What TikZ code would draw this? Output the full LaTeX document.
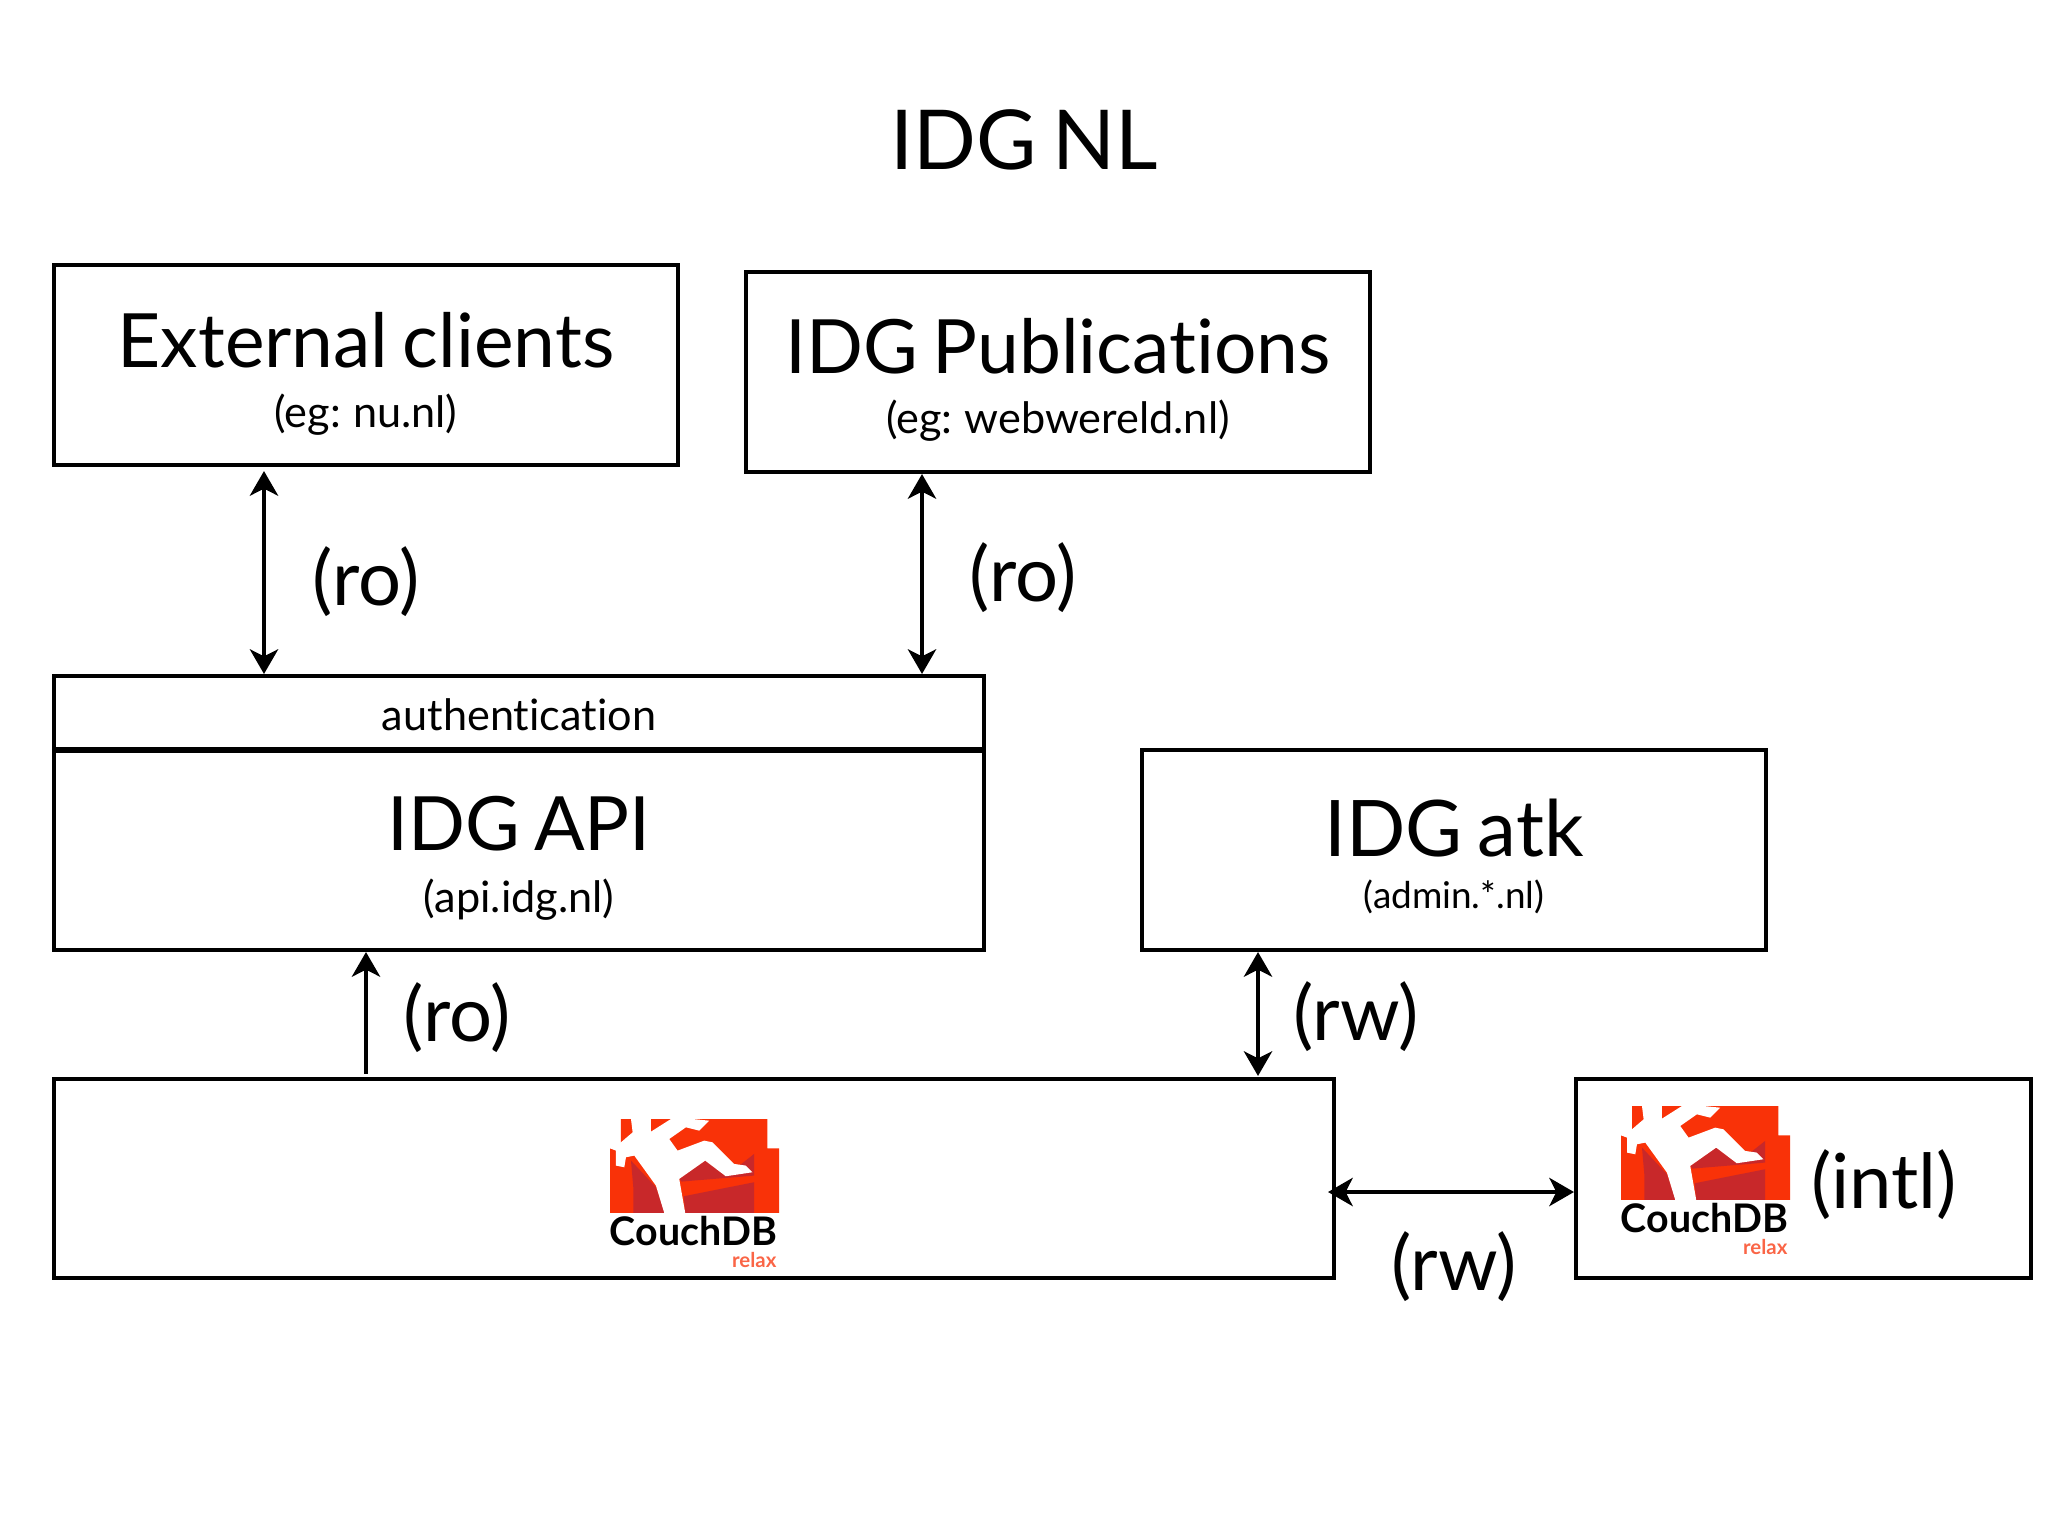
\documentclass[tikz,border=0pt]{standalone}
\usepackage{fontspec}
\setmainfont[Ligatures=NoCommon,WordSpace=0.75]{Lato}
\usetikzlibrary{arrows.meta}
\definecolor{couchred}{HTML}{F93208}
\definecolor{couchdark}{HTML}{C8282A}
\tikzset{
  box/.style={draw=black,line width=1.15pt,inner sep=0pt,minimum width=624*0.01cm,minimum height=200*0.01cm},
  bigtext/.style={inner sep=0pt,font=\fontsize{21.3}{21.3}\selectfont},
  labeltext/.style={inner sep=0pt,font=\fontsize{21.6}{21.6}\selectfont},
  smalltext/.style={inner sep=0pt,font=\fontsize{12.3}{12.3}\selectfont},
  link/.style={line width=1.3pt,-{Stealth[length=7pt,width=8pt,inset=2pt]}},
  bilink/.style={line width=1.3pt,{Stealth[length=7pt,width=8pt,inset=2pt]}-{Stealth[length=7pt,width=8pt,inset=2pt]}},
  couchlogo/.pic={
    \begin{scope}[x=0.003333cm,y=-0.003333cm]
    % Red blocks
    \fill[couchred] (33,0) -- (473,0) -- (473,88) -- (508,88) -- (508,282) -- (0,282) -- (0,88) -- (33,88) -- cycle;
    \fill[couchdark] (70,282) -- (70,205) -- (63,125) -- (138,205) -- (165,282) -- cycle;
    \fill[couchdark] (208,180) -- (286,125) -- (348,172) -- (433,105) -- (433,170) -- (215,188) -- cycle;
    \fill[couchdark] (222,232) -- (433,190) -- (433,282) -- (225,282) -- cycle;
    % Running figure
    \fill[white] (163,282) -- (226,282) -- (208,180) -- (286,125) -- (348,172) -- (428,160) -- (408,140) -- (373,135) -- (308,70) -- (283,65) -- (203,95) -- (178,60) -- (228,25) -- (268,35) -- (298,5) -- (248,0) -- (183,0) -- (123,38) -- (123,0) -- (63,0) -- (68,40) -- (33,70) -- (0,88) -- (18,95) -- (18,140) -- (43,145) -- (48,115) -- (73,110) -- (138,200) -- cycle;
    % Wordmark
    \node[inner sep=0pt,anchor=base east,font=\fontsize{11.2}{11.2}\selectfont\bfseries] (couchword) at (504,381) {CouchDB};
    \node[inner sep=0pt,anchor=base east,text=couchred!75,font=\fontsize{5.8}{5.8}\selectfont\bfseries] (couchrelax) at (502,446) {relax};
    \end{scope}
  }
}
\begin{document}
\begin{tikzpicture}[x=0.01cm,y=-0.01cm]
  \useasboundingbox (0,0) rectangle (2048,1536);

  % Title
  \node[inner sep=0pt,font=\fontsize{23.5}{23.5}\selectfont] (title) at (1024,140) {IDG NL};

  % Boxes
  \node[box] (ext) at (366,365) {};
  \node[box] (pub) at (1058,372) {};
  \node[box,minimum width=930*0.01cm,minimum height=73*0.01cm] (auth) at (519,712.5) {};
  \node[box,minimum width=930*0.01cm,minimum height=201*0.01cm] (api) at (519,849.5) {};
  \node[box] (atk) at (1454,850) {};
  \node[box,minimum width=1280*0.01cm,minimum height=199*0.01cm] (couch) at (694,1178.5) {};
  \node[box,minimum width=455*0.01cm,minimum height=199*0.01cm] (intl) at (1803.5,1178.5) {};
  \draw[line width=1.4pt] (auth.south west) -- (auth.south east);

  % Box texts
  \node[bigtext] (exttitle) at (366,340) {External clients};
  \node[smalltext] (extsub) at (366,415) {(eg: nu.nl)};
  \node[bigtext] (pubtitle) at (1058,346) {IDG Publications};
  \node[smalltext] (pubsub) at (1058,421) {(eg: webwereld.nl)};
  \node[smalltext] (authtext) at (519,715) {authentication};
  \node[bigtext] (apititle) at (519,824) {IDG API};
  \node[smalltext] (apisub) at (519,900) {(api.idg.nl)};
  \node[bigtext,font=\fontsize{22.2}{22.2}\selectfont] (atktitle) at (1454,828) {IDG atk};
  \node[inner sep=0pt,font=\fontsize{10.5}{10.5}\selectfont] (atksub) at (1454,897) {(admin.*.nl)};

  % Logos
  \pic at (610,1119) {couchlogo};
  \pic at (1621,1106) {couchlogo};

  % Connectors
  \coordinate (xa) at (264,0);
  \coordinate (xb) at (922,0);
  \coordinate (xc) at (366,0);
  \coordinate (xd) at (1258,0);
  \coordinate (yh) at (0,1192);
  \draw[bilink] ([yshift=-0.04cm]ext.south -| xa) -- (auth.north -| xa);
  \draw[bilink] (pub.south -| xb) -- (auth.north -| xb);
  \draw[link] ([yshift=0.03cm]couch.north -| xc) -- (api.south -| xc);
  \draw[bilink] (atk.south -| xd) -- ([yshift=0.01cm]couch.north -| xd);
  \draw[bilink] ([xshift=-0.08cm]couch.east |- yh) -- (intl.west |- yh);

  % Link labels
  \node[labeltext] (roa) at (366,582) {(ro)};
  \node[labeltext] (rob) at (1023,578) {(ro)};
  \node[labeltext] (roc) at (457,1018) {(ro)};
  \node[labeltext] (rwa) at (1356,1017) {(rw)};
  \node[labeltext] (rwb) at (1454,1267) {(rw)};
  \node[labeltext] (intltext) at (1884,1185) {(intl)};
\end{tikzpicture}
\end{document}
